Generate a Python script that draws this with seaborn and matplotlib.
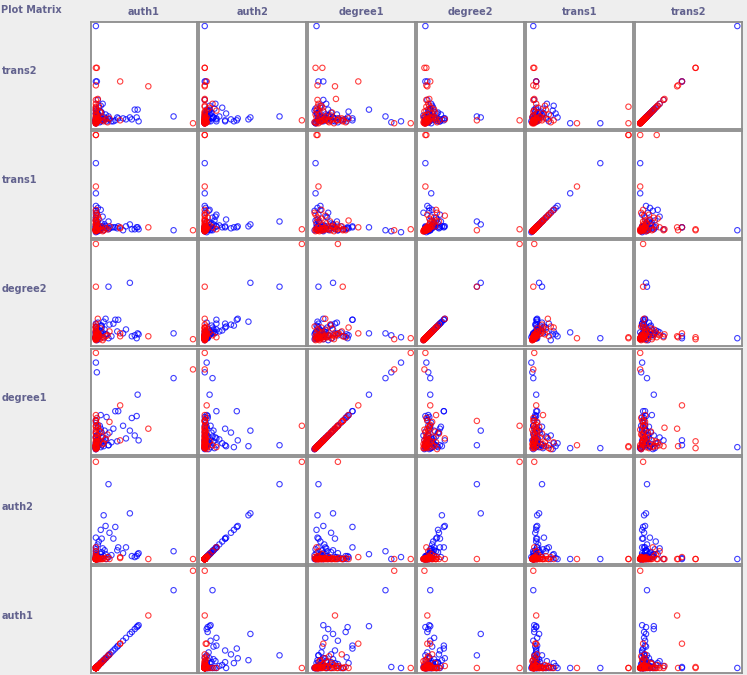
import pandas as pd
import matplotlib.pyplot as plt
import seaborn as sns

# class of each instance (b = blue, r = red), then the six attributes (scaled 0..1)
cls = (list("rrbbbrrrrbbbrrrbbrrbrbrbbr") + list("b" * 15) + list("r" * 5) + list("b" * 4)
       + list("r" * 30) + list("b" * 30))

auth1 = [1.00, 0.00, 0.80, 0.00, 0.01, 0.54, 0.25, 0.00, 0.01, 0.00,
         0.00, 0.01, 0.00, 0.00, 0.02, 0.02, 0.05, 0.00, 0.00, 0.00,
         0.00, 0.00, 0.00, 0.13, 0.35, 0.00, 0.42, 0.43, 0.23, 0.08,
         0.20, 0.10, 0.05, 0.14, 0.06, 0.18, 0.31, 0.22, 0.37, 0.44,
         0.28, 0.14, 0.25, 0.00, 0.00, 0.02, 0.00, 0.02, 0.40, 0.05,
         0.00, 0.00, 0.01, 0.00, 0.02, 0.00, 0.03, 0.00, 0.01, 0.00,
         0.04, 0.00, 0.06, 0.08, 0.10, 0.12, 0.00, 0.00, 0.01, 0.00,
         0.02, 0.00, 0.05, 0.00, 0.03, 0.00, 0.01, 0.07, 0.00, 0.00,
         0.00, 0.01, 0.00, 0.02, 0.00, 0.03, 0.00, 0.05, 0.00, 0.01,
         0.08, 0.10, 0.13, 0.16, 0.00, 0.02, 0.00, 0.04, 0.00, 0.06,
         0.00, 0.01, 0.03, 0.00, 0.09, 0.00, 0.11, 0.00, 0.02, 0.07]

auth2 = [0.00, 0.00, 0.08, 0.02, 0.00, 0.00, 0.02, 0.00, 0.00, 0.00,
         0.00, 0.01, 0.00, 0.00, 0.00, 0.00, 0.05, 0.00, 0.00, 0.00,
         0.00, 0.00, 1.00, 0.77, 0.47, 0.00, 0.03, 0.05, 0.12, 0.45,
         0.33, 0.34, 0.30, 0.27, 0.21, 0.21, 0.12, 0.09, 0.03, 0.06,
         0.06, 0.00, 0.01, 0.00, 0.00, 0.00, 0.00, 0.01, 0.02, 0.02,
         0.00, 0.00, 0.00, 0.01, 0.00, 0.00, 0.01, 0.00, 0.02, 0.00,
         0.00, 0.03, 0.00, 0.01, 0.00, 0.02, 0.05, 0.08, 0.00, 0.00,
         0.01, 0.00, 0.00, 0.02, 0.00, 0.00, 0.01, 0.00, 0.12, 0.00,
         0.00, 0.01, 0.02, 0.00, 0.03, 0.01, 0.00, 0.02, 0.06, 0.04,
         0.03, 0.05, 0.02, 0.04, 0.10, 0.15, 0.08, 0.00, 0.01, 0.07,
         0.12, 0.00, 0.18, 0.00, 0.09, 0.22, 0.00, 0.04, 0.02, 0.11]

degree1 = [0.83, 1.00, 0.74, 0.90, 0.80, 0.22, 0.46, 0.02, 0.09, 0.03,
           0.05, 0.10, 0.04, 0.04, 0.23, 0.10, 0.07, 0.04, 0.03, 0.02,
           0.05, 0.02, 0.25, 0.05, 0.20, 0.30, 0.35, 0.57, 0.40, 0.04,
           0.40, 0.10, 0.03, 0.18, 0.05, 0.22, 0.12, 0.09, 0.33, 0.10,
           0.25, 0.29, 0.10, 0.36, 0.08, 0.12, 0.07, 0.04, 0.15, 0.36,
           0.02, 0.05, 0.08, 0.12, 0.15, 0.18, 0.20, 0.24, 0.03, 0.06,
           0.10, 0.04, 0.14, 0.07, 0.11, 0.16, 0.09, 0.05, 0.02, 0.13,
           0.26, 0.30, 0.19, 0.01, 0.08, 0.21, 0.33, 0.06, 0.03, 0.17,
           0.01, 0.04, 0.07, 0.10, 0.13, 0.16, 0.19, 0.22, 0.03, 0.06,
           0.09, 0.12, 0.05, 0.08, 0.02, 0.11, 0.14, 0.25, 0.28, 0.18,
           0.05, 0.15, 0.07, 0.31, 0.20, 0.04, 0.34, 0.01, 0.24, 0.13]

degree2 = [0.02, 0.03, 0.08, 0.04, 0.06, 0.05, 0.08, 0.02, 0.04, 0.03,
           0.03, 0.05, 0.04, 0.04, 0.07, 0.05, 0.10, 0.04, 0.03, 0.03,
           0.03, 0.09, 1.00, 0.56, 0.60, 0.56, 0.03, 0.08, 0.22, 0.20,
           0.22, 0.23, 0.16, 0.17, 0.14, 0.18, 0.12, 0.10, 0.05, 0.07,
           0.08, 0.10, 0.05, 0.14, 0.14, 0.23, 0.05, 0.07, 0.06, 0.06,
           0.01, 0.02, 0.03, 0.04, 0.05, 0.03, 0.06, 0.07, 0.08, 0.10,
           0.02, 0.12, 0.04, 0.03, 0.05, 0.06, 0.09, 0.06, 0.05, 0.11,
           0.08, 0.05, 0.13, 0.15, 0.07, 0.02, 0.04, 0.01, 0.04, 0.17,
           0.02, 0.03, 0.05, 0.02, 0.04, 0.06, 0.03, 0.08, 0.10, 0.12,
           0.04, 0.07, 0.03, 0.05, 0.08, 0.10, 0.14, 0.06, 0.09, 0.16,
           0.18, 0.01, 0.11, 0.05, 0.12, 0.15, 0.07, 0.07, 0.19, 0.09]

trans1 = [0.02, 0.03, 0.02, 0.00, 0.01, 0.05, 0.05, 0.03, 0.02, 0.02,
          0.05, 0.05, 0.02, 0.02, 0.03, 0.03, 0.23, 1.00, 1.00, 0.71,
          0.47, 0.40, 0.03, 0.11, 0.08, 0.02, 0.05, 0.05, 0.06, 0.06,
          0.05, 0.06, 0.05, 0.04, 0.06, 0.05, 0.06, 0.04, 0.03, 0.03,
          0.02, 0.06, 0.04, 0.12, 0.23, 0.17, 0.27, 0.25, 0.03, 0.04,
          0.01, 0.02, 0.04, 0.03, 0.06, 0.02, 0.05, 0.08, 0.10, 0.12,
          0.02, 0.15, 0.03, 0.02, 0.04, 0.03, 0.07, 0.05, 0.18, 0.09,
          0.05, 0.03, 0.06, 0.20, 0.14, 0.01, 0.02, 0.01, 0.03, 0.11,
          0.02, 0.03, 0.05, 0.01, 0.04, 0.02, 0.06, 0.03, 0.08, 0.10,
          0.02, 0.04, 0.03, 0.05, 0.12, 0.07, 0.15, 0.02, 0.06, 0.09,
          0.18, 0.20, 0.05, 0.03, 0.08, 0.13, 0.04, 0.22, 0.11, 0.16]

trans2 = [0.00, 0.00, 0.07, 0.02, 0.01, 0.38, 0.43, 0.57, 0.57, 1.00,
          0.43, 0.43, 0.39, 0.24, 0.25, 0.24, 0.18, 0.17, 0.00, 0.00,
          0.00, 0.00, 0.03, 0.07, 0.06, 0.03, 0.06, 0.14, 0.05, 0.04,
          0.03, 0.05, 0.02, 0.04, 0.03, 0.02, 0.04, 0.06, 0.04, 0.02,
          0.05, 0.05, 0.03, 0.05, 0.03, 0.04, 0.06, 0.10, 0.14, 0.12,
          0.01, 0.03, 0.02, 0.05, 0.02, 0.08, 0.04, 0.03, 0.06, 0.10,
          0.12, 0.14, 0.03, 0.02, 0.04, 0.01, 0.16, 0.20, 0.09, 0.07,
          0.05, 0.02, 0.11, 0.01, 0.18, 0.00, 0.01, 0.06, 0.13, 0.03,
          0.01, 0.02, 0.04, 0.06, 0.03, 0.08, 0.02, 0.05, 0.10, 0.12,
          0.03, 0.09, 0.04, 0.02, 0.15, 0.07, 0.05, 0.01, 0.03, 0.11,
          0.02, 0.08, 0.16, 0.04, 0.06, 0.10, 0.02, 0.13, 0.09, 0.20]

col_vars = ["auth1", "auth2", "degree1", "degree2", "trans1", "trans2"]
row_vars = col_vars[::-1]

df = pd.DataFrame({"cls": cls, "auth1": auth1, "auth2": auth2, "degree1": degree1,
                   "degree2": degree2, "trans1": trans1, "trans2": trans2})

text_color = "#62628e"


def hollow(x, y, color=None, label=None, **kws):
    sns.scatterplot(x=x, y=y, marker="o", s=15, color=color, facecolor="none",
                    edgecolor=color, linewidth=0.8, alpha=0.75)


g = sns.PairGrid(df, hue="cls", hue_order=["b", "r"],
                 palette={"b": "#0000ff", "r": "#ff0000"},
                 x_vars=col_vars, y_vars=row_vars, height=1.1, despine=False)
g.map(hollow)

fig = g.figure
fig.set_size_inches(7.47, 6.75)
fig.set_facecolor("#eeeeee")
fig.subplots_adjust(left=0.1212, right=0.9929, top=0.9679, bottom=0.0025,
                    wspace=0.019, hspace=0.019)

for ax in g.axes.flat:
    ax.set_xlim(-0.055, 1.045)
    ax.set_ylim(-0.055, 1.045)
    ax.set_xticks([])
    ax.set_yticks([])
    ax.set_xlabel("")
    ax.set_ylabel("")
    ax.set_facecolor("white")
    for sp in ax.spines.values():
        sp.set_color("#8c8c8c")
        sp.set_linewidth(1.3)

for j, name in enumerate(col_vars):
    pos = g.axes[0, j].get_position()
    fig.text((pos.x0 + pos.x1) / 2, 1 - 12 / 675, name, ha="center", va="center",
             fontsize=7, fontweight="bold", color=text_color)

for i, name in enumerate(row_vars):
    pos = g.axes[i, 0].get_position()
    fig.text(2 / 747, (pos.y0 + pos.y1) / 2 + 0.006, name, ha="left", va="center",
             fontsize=7, fontweight="bold", color=text_color)

fig.text(1 / 747, 1 - 10 / 675, "Plot Matrix", ha="left", va="center",
         fontsize=7, fontweight="bold", color=text_color)

fig.savefig("out.png", dpi=100, facecolor=fig.get_facecolor())
